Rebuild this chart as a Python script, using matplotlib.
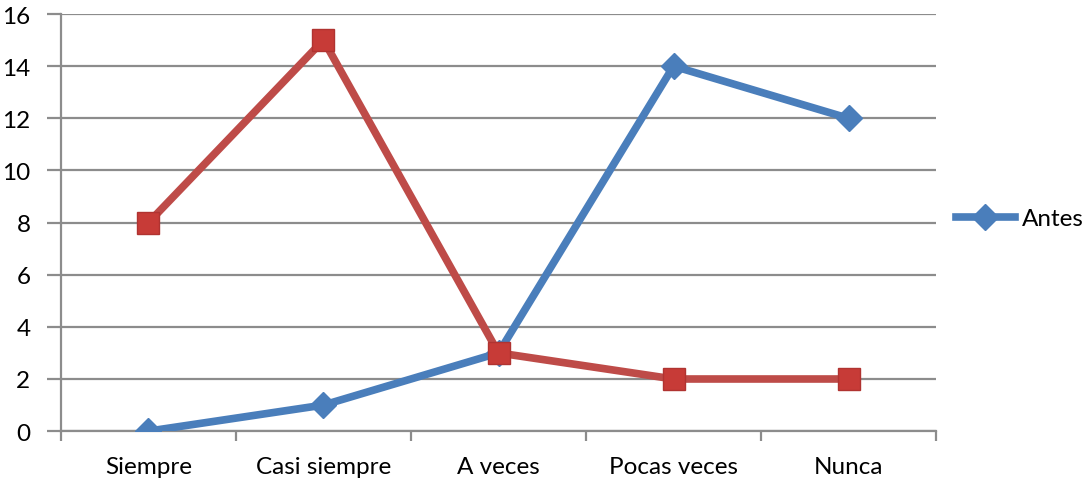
import matplotlib.pyplot as plt
import numpy as np

categories = ['Siempre', 'Casi siempre', 'A veces', 'Pocas veces', 'Nunca']
antes = [0, 1, 3, 14, 12]
despues = [8, 15, 3, 2, 2]
y_ticks = [0, 2, 4, 6, 8, 10, 12, 14, 16]

BLUE = '#4A7EBB'
RED = '#BE4B48'
GRID = '#8C8C8C'

plt.rcParams['font.family'] = ['Lato', 'DejaVu Sans']

fig = plt.figure(figsize=(10.83, 4.85), dpi=100)
ax = fig.add_axes([0.0563, 0.109, 0.808, 0.860])

x = np.arange(len(categories))
ax.plot(x, antes, color=BLUE, linewidth=5.5, marker='D', markersize=13,
        markerfacecolor=BLUE, markeredgecolor=BLUE, label='Antes', zorder=3)
ax.plot(x, despues, color=RED, linewidth=5.5, marker='s', markersize=16,
        markerfacecolor='#C73B37', markeredgecolor='#B03331', zorder=4)

ax.set_xlim(-0.5, len(categories) - 0.5)
ax.set_ylim(0, 16)
ax.set_yticks(y_ticks)
ax.set_xticks(x)
ax.set_xticklabels(categories)
ax.set_xticks(np.arange(-0.5, len(categories), 1.0), minor=True)

ax.yaxis.grid(True, color=GRID, linewidth=1.6)
ax.set_axisbelow(True)
for side in ['top', 'right']:
    ax.spines[side].set_visible(False)
for side in ['left', 'bottom']:
    ax.spines[side].set_color(GRID)
    ax.spines[side].set_linewidth(1.6)

ax.tick_params(axis='y', length=10, width=1.6, color=GRID, labelsize=17.5, pad=12)
ax.tick_params(axis='x', which='major', length=0, labelsize=17.5, pad=18)
ax.tick_params(axis='x', which='minor', length=7, width=1.6, color=GRID)

fig.legend(loc='center left', bbox_to_anchor=(0.874, 0.547), frameon=False,
           fontsize=17.5, handlelength=2.4, handletextpad=0.3, borderaxespad=0)

fig.savefig('out.png', dpi=100)
